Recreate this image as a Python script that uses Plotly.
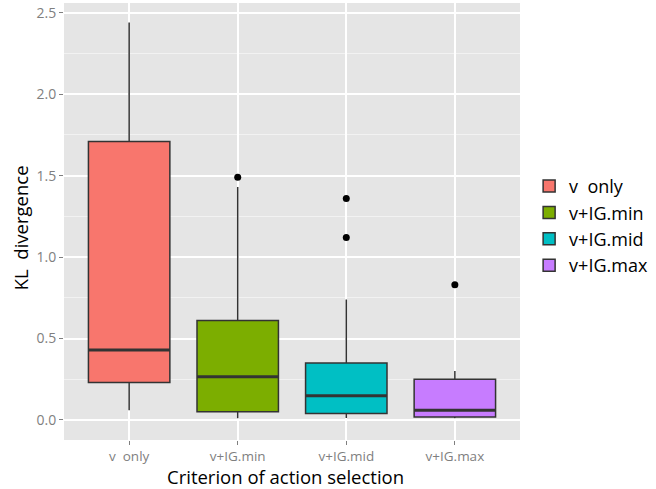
import plotly.graph_objects as go

categories = ["v  only", "v+IG.min", "v+IG.mid", "v+IG.max"]
colors = ["#F8766D", "#7CAE00", "#00BFC4", "#C77CFF"]
q1 = [0.23, 0.05, 0.04, 0.018]
median = [0.43, 0.265, 0.148, 0.06]
q3 = [1.71, 0.61, 0.35, 0.25]
lowerfence = [0.06, 0.01, 0.012, 0.01]
upperfence = [2.44, 1.43, 0.74, 0.30]
outliers = {
    "v  only": [],
    "v+IG.min": [1.49],
    "v+IG.mid": [1.36, 1.12],
    "v+IG.max": [0.83],
}

fig = go.Figure()
for i, c in enumerate(categories):
    fig.add_trace(go.Box(
        x=[c], q1=[q1[i]], median=[median[i]], q3=[q3[i]],
        lowerfence=[lowerfence[i]], upperfence=[upperfence[i]],
        name=c, legendgroup=c, fillcolor=colors[i],
        line=dict(color="#333333", width=1.5),
        width=0.75, whiskerwidth=0, boxpoints=False, showlegend=True,
    ))
# thicker median bars (ggplot style)
fig.add_trace(go.Scatter(
    x=categories, y=median, mode="markers", showlegend=False, hoverinfo="skip",
    marker=dict(symbol="line-ew", size=58, line=dict(color="#333333", width=3)),
))
for c in categories:
    if outliers[c]:
        fig.add_trace(go.Scatter(
            x=[c] * len(outliers[c]), y=outliers[c], mode="markers",
            marker=dict(color="black", size=7), showlegend=False, hoverinfo="y",
        ))

font = "Open Sans, DejaVu Sans, sans-serif"
fig.update_layout(
    width=656, height=489,
    margin=dict(l=64, r=133, t=3, b=49),
    paper_bgcolor="white", plot_bgcolor="#E5E5E5",
    font=dict(family=font, color="black"),
    boxmode="overlay",
    legend=dict(x=1.02, y=0.49, xanchor="left", yanchor="middle",
                font=dict(size=18, color="black"), tracegroupgap=0,
                bgcolor="rgba(0,0,0,0)"),
    annotations=[
        dict(text="Criterion of action selection", xref="paper", yref="paper",
             x=0.486, y=-0.084, xanchor="center", yanchor="middle", showarrow=False,
             font=dict(size=18.5, color="black")),
        dict(text="KL  divergence", xref="paper", yref="paper", textangle=-90,
             x=-0.096, y=0.485, xanchor="center", yanchor="middle", showarrow=False,
             font=dict(size=18.5, color="black")),
    ],
)
fig.update_xaxes(
    type="category", categoryorder="array", categoryarray=categories,
    range=[-0.6, 3.6], showgrid=True, gridcolor="white", gridwidth=1.5,
    ticks="outside", ticklen=4, tickcolor="#7F7F7F", tickwidth=1.2,
    tickfont=dict(size=13.5, color="#7F7F7F"), zeroline=False, showline=False,
    automargin=False,
)
fig.update_yaxes(
    range=[-0.123, 2.56], tickvals=[0, 0.5, 1.0, 1.5, 2.0, 2.5], tickformat=".1f",
    showgrid=True, gridcolor="white", gridwidth=1.5,
    minor=dict(tickvals=[0.25, 0.75, 1.25, 1.75, 2.25], showgrid=True, gridcolor="#F2F2F2", gridwidth=0.8),
    ticks="outside", ticklen=4, tickcolor="#7F7F7F", tickwidth=1.2,
    tickfont=dict(size=14, color="#7F7F7F"), zeroline=False, showline=False,
    automargin=False,
)
fig.write_html("out.html", config={"displayModeBar": False},
               post_script="document.body.style.margin='0';document.body.style.padding='0';")
